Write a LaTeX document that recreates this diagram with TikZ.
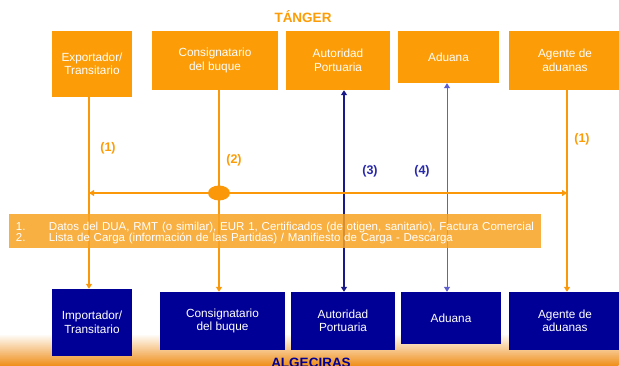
\documentclass[tikz,border=0pt]{standalone}
\usepackage{fontspec}
\setmainfont{Liberation Sans}
\usetikzlibrary{arrows.meta,fadings,shapes.geometric}
\definecolor{boxor}{RGB}{252,156,6}
\definecolor{lineor}{RGB}{250,152,10}
\definecolor{legor}{RGB}{248,163,35}
\definecolor{boxbl}{RGB}{0,0,150}
\definecolor{autbl}{RGB}{25,25,140}
\definecolor{adubl}{RGB}{95,95,205}
\definecolor{labbl}{RGB}{40,40,170}
\definecolor{glow}{RGB}{240,145,30}
\begin{document}
\begin{tikzpicture}[x=1pt,y=-1pt,
  topbox/.style={fill=boxor, text=white, font=\fontsize{11.8}{13.5}\selectfont, align=center, inner sep=0pt},
  botbox/.style={fill=boxbl, text=white, font=\fontsize{11.8}{13.5}\selectfont, align=center, inner sep=0pt},
  orline/.style={draw=lineor, line width=2pt},
  autline/.style={draw=autbl, line width=2pt},
  aduline/.style={draw=adubl, line width=1pt},
  tip/.style={-{Triangle[length=5pt,width=6pt]}},
  dtip/.style={{Triangle[length=5pt,width=6pt]}-{Triangle[length=5pt,width=6pt]}},
  numlab/.style={font=\bfseries\fontsize{12.5}{14}\selectfont},
  city/.style={font=\bfseries\fontsize{13.5}{15}\selectfont}
]
\clip (0,0) rectangle (619,365);
\fill[white] (0,0) rectangle (619,365);
% bottom glow
\shade[left color=glow, middle color=white, right color=glow, path fading=north] (0,334) rectangle (619,365);

% titles
\node[city, text=boxor] (tanger) at (303,17) {TÁNGER};
\node[city, text=boxbl, anchor=north] (algeciras) at (311,355) {ALGECIRAS};

% top boxes
\node[topbox, minimum width=80pt, minimum height=66pt] (exp) at (92,64) {Exportador/\\Transitario};
\node[topbox, minimum width=126pt, minimum height=59pt] (cons) at (215,60.5) {Consignatario\\del buque};
\node[topbox, minimum width=104pt, minimum height=59pt] (aut) at (338,60.5) {Autoridad\\Portuaria};
\node[topbox, minimum width=101pt, minimum height=52pt] (adu) at (448.5,57) {Aduana};
\node[topbox, minimum width=112pt, minimum height=59pt] (age) at (565,60.5) {Agente de\\aduanas};

% bottom boxes
\node[botbox, minimum width=80pt, minimum height=67pt] (imp) at (92,322.5) {Importador/\\Transitario};
\node[botbox, minimum width=125pt, minimum height=58pt] (cons2) at (222.5,321) {Consignatario\\del buque};
\node[botbox, minimum width=104pt, minimum height=58pt] (aut2) at (343,321) {Autoridad\\Portuaria};
\node[botbox, minimum width=100pt, minimum height=52pt] (adu2) at (451,318) {Aduana};
\node[botbox, minimum width=112pt, minimum height=58pt] (age2) at (565,321) {Agente de\\aduanas};

% line positions
\coordinate (x1) at (89,0);
\coordinate (x2) at (219,0);
\coordinate (x3) at (344,0);
\coordinate (x4) at (447,0);
\coordinate (x5) at (567,0);
\coordinate (hy) at (0,193);

% connectors
\draw[orline, tip] (exp.south -| x1) -- (imp.north -| x1);
\draw[orline, tip] (cons.south -| x2) -- (cons2.north -| x2);
\draw[autline, dtip] (aut.south -| x3) -- (aut2.north -| x3);
\draw[aduline, dtip] (adu.south -| x4) -- (adu2.north -| x4);
\draw[orline, tip] (age.south -| x5) -- (age2.north -| x5);
\draw[draw=lineor, line width=1.5pt, dtip] (x1 |- hy) -- (x5 |- hy);
\node[ellipse, fill=lineor, minimum width=22pt, minimum height=15pt, inner sep=0pt] (dot) at (x2 |- hy) {};

% labels
\node[numlab, text=boxor] (l1) at (108,148) {(1)};
\node[numlab, text=boxor] (l2) at (234,160) {(2)};
\node[numlab, text=labbl] (l3) at (370,171) {(3)};
\node[numlab, text=labbl] (l4) at (422,171) {(4)};
\node[numlab, text=boxor] (l5) at (582,139) {(1)};

% legend
\node[fill=legor, fill opacity=0.85, text opacity=1, text=white, minimum width=532pt, minimum height=34pt,
      inner xsep=7pt, inner ysep=0pt, text width=518pt, font=\fontsize{11.5}{13}\selectfont] (legend) at (275,231)
  {\begin{tabular}{@{}p{33pt}@{}l@{}}\rule{0pt}{14pt}1. & Datos del DUA, RMT (o similar), EUR 1, Certificados (de otigen, sanitario), Factura Comercial\\[-1.5pt]
   2. & Lista de Carga (información de las Partidas) / Manifiesto de Carga - Descarga\end{tabular}};
\end{tikzpicture}
\end{document}
